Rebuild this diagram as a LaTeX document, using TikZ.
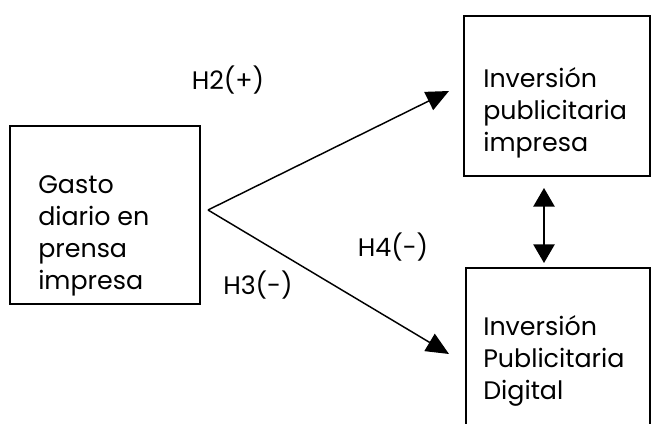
\documentclass[tikz,border=0pt]{standalone}
\usepackage{fontspec}
\setmainfont{Poppins}
\usetikzlibrary{arrows.meta}

\tikzset{
  varbox/.style={draw,line width=0.8pt,minimum width=#1,inner sep=0pt},
  vartext/.style={anchor=west,align=left,inner sep=0pt,font=\fontsize{19}{24}\selectfont},
  hyplabel/.style={inner sep=0pt,font=\fontsize{19}{24}\selectfont},
  hyparrow/.style={line width=1.1pt,-{Triangle[length=17pt,width=15pt]}},
  bothways/.style={line width=1.1pt,{Triangle[length=14pt,width=16pt]}-{Triangle[length=14pt,width=16pt]}}
}

\begin{document}
\begin{tikzpicture}[x=0.75pt,y=-0.75pt]
  \useasboundingbox (0,0) rectangle (651,424);
  \clip (0,0) rectangle (651,424);

  % boxes
  \node[varbox=142.5pt,minimum height=133.5pt] (gasto) at (105,215) {};
  \node[varbox=139.5pt,minimum height=120pt] (inviimp) at (557,96) {};
  \node[varbox=138pt,minimum height=129pt] (invdig) at (558,354) {};

  % texts inside boxes
  \node[vartext] (gastotxt) at (38,236) {Gasto\\diario en\\prensa\\impresa};
  \node[vartext] (imptxt) at (483,113) {Inversión\\publicitaria\\impresa};
  \node[vartext] (digtxt) at (483,361) {Inversión\\Publicitaria\\Digital};

  % arrow ends
  \coordinate (fork) at (208,210);
  \coordinate (toimp) at (449,91);
  \coordinate (todig) at (449,354);
  \coordinate (updown1) at (544,188);
  \coordinate (updown2) at (544,263);

  \draw[hyparrow] (fork) -- (toimp);
  \draw[hyparrow] (fork) -- (todig);
  \draw[bothways] (updown1) -- (updown2);

  % hypothesis labels
  \node[hyplabel] (htwo) at (228,80) {H2(+)};
  \node[hyplabel] (hfour) at (393,247) {H4(-)};
  \node[hyplabel] (hthree) at (258,285) {H3(-)};
\end{tikzpicture}
\end{document}
